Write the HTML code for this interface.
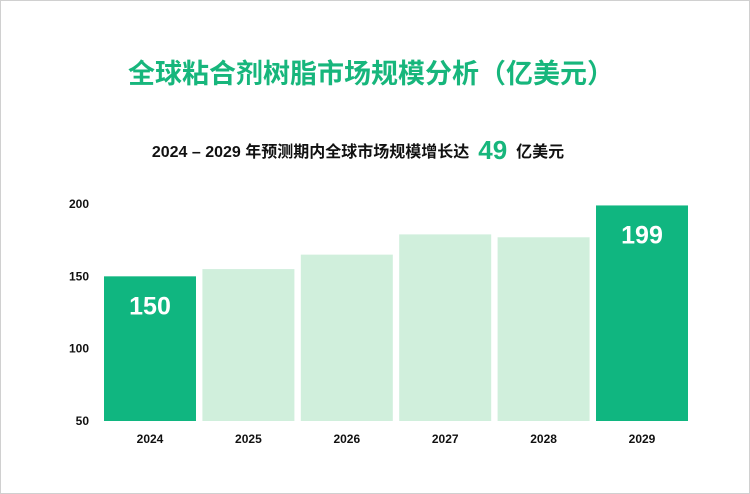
<!DOCTYPE html>
<html><head><meta charset="utf-8"><style>
body{margin:0;background:#fff;}
#wrap{position:relative;width:748px;height:492px;border:1px solid #d0d0d0;background:#fff;font-family:"Liberation Sans","Noto Sans CJK SC",sans-serif;overflow:hidden}
#title{position:absolute;left:0;width:740px;top:51px;text-align:center;font-size:27px;font-weight:bold;color:#17b67c}
#sub{position:absolute;left:0;width:714px;top:134px;text-align:center;font-size:16px;font-weight:bold;color:#111}
#sub b{font-size:26px;color:#17b67c;margin:0 9px;vertical-align:-2px}
svg{position:absolute;left:0;top:0}
</style></head><body>
<div id="wrap">
<div id="title">全球粘合剂树脂市场规模分析（亿美元）</div>
<div id="sub">2024 – 2029 年预测期内全球市场规模增长达<b>49</b>亿美元</div>
<svg id="chart" width="748" height="492"></svg>
</div>
<script>
const categories=["2024","2025","2026","2027","2028","2029"];
const values=[150,155,165,179,177,199];
const highlight=[true,false,false,false,false,true];
const yTicks=[50,100,150,200];
const NS="http://www.w3.org/2000/svg";
const svg=document.getElementById('chart');
const y0=420,yTop=203,vMin=50,vMax=200;
function y(v){return y0-(v-vMin)/(vMax-vMin)*(y0-yTop);}
function x(i){return 103+i*98.4;}
const bw=92;
yTicks.forEach(t=>{
 const tx=document.createElementNS(NS,'text');
 tx.setAttribute('x',88);tx.setAttribute('y',y(t)+4);tx.setAttribute('text-anchor','end');
 tx.setAttribute('font-size','12');tx.setAttribute('font-weight','bold');tx.setAttribute('fill','#111');
 tx.textContent=t;
 
 
 svg.appendChild(tx);
});
categories.forEach((c,i)=>{
 const r=document.createElementNS(NS,'rect');
 r.setAttribute('x',x(i));r.setAttribute('y',y(values[i]));r.setAttribute('width',bw);r.setAttribute('height',y0-y(values[i]));
 r.setAttribute('fill',highlight[i]?'#10b680':'#d0efdc');
 
 
 svg.appendChild(r);
 const l=document.createElementNS(NS,'text');
 l.setAttribute('x',x(i)+bw/2);l.setAttribute('y',442);l.setAttribute('text-anchor','middle');
 l.setAttribute('font-size','12');l.setAttribute('font-weight','bold');l.setAttribute('fill','#111');
 l.textContent=c;
 
 
 svg.appendChild(l);
 if(highlight[i]){
  const v=document.createElementNS(NS,'text');
  v.setAttribute('x',x(i)+bw/2);v.setAttribute('y',y(values[i])+38);v.setAttribute('text-anchor','middle');
  v.setAttribute('font-size','25');v.setAttribute('font-weight','bold');v.setAttribute('fill','#fff');
  v.textContent=values[i];
  
  
  svg.appendChild(v);
 }
});
</script>
</body></html>
